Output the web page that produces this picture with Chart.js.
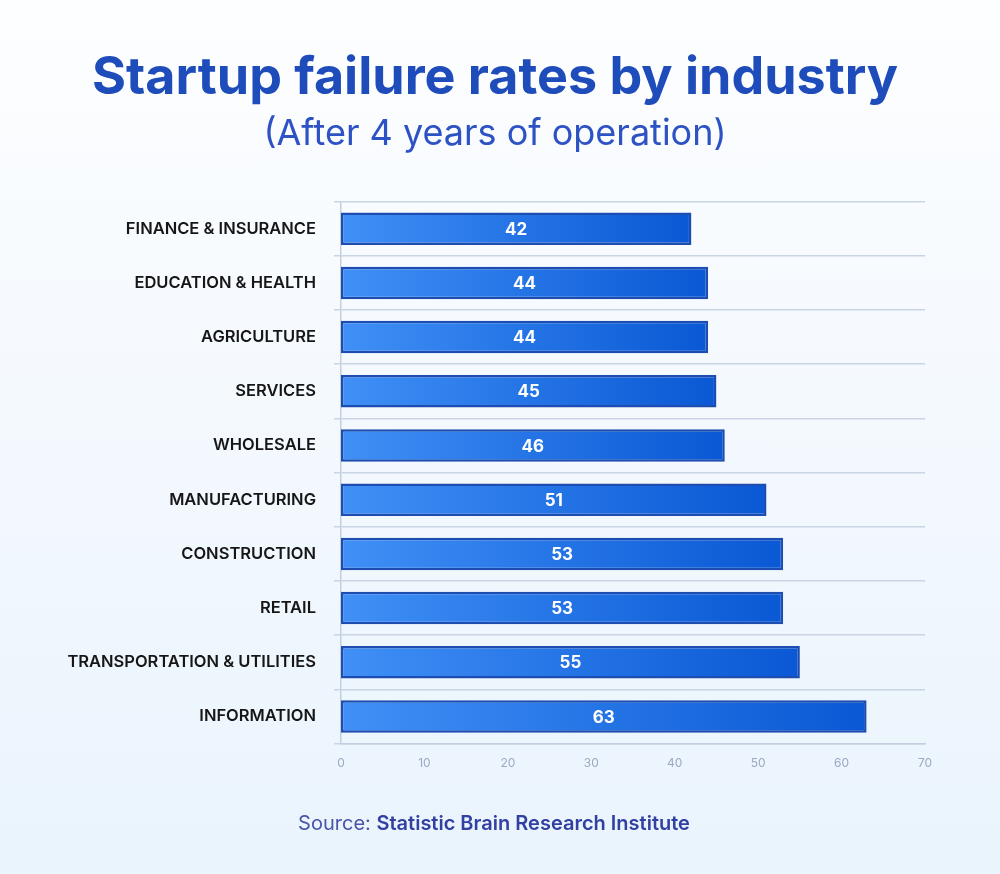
<!DOCTYPE html>
<html lang="en">

<head>
    <meta charset="UTF-8">
    <meta name="viewport" content="width=device-width, initial-scale=1.0">
    <title>Startup failure rates by industry</title>
    <script src="https://cdn.jsdelivr.net/npm/chart.js@4.4.1/dist/chart.umd.min.js"></script>
    <style>
        html, body {
            margin: 0;
            padding: 0;
        }

        body {
            width: 1000px;
            height: 874px;
            background: linear-gradient(180deg, #fdfeff 0%, #f4f9fe 45%, #eaf4fd 100%);
            overflow: hidden;
        }

        #wrap {
            width: 1000px;
            height: 874px;
        }
    </style>
</head>

<body>
    <div id="wrap"><canvas id="chart"></canvas></div>

    <script>
        const industries = [
            'FINANCE & INSURANCE',
            'EDUCATION & HEALTH',
            'AGRICULTURE',
            'SERVICES',
            'WHOLESALE',
            'MANUFACTURING',
            'CONSTRUCTION',
            'RETAIL',
            'TRANSPORTATION & UTILITIES',
            'INFORMATION'
        ];
        const failureRates = [42, 44, 44, 45, 46, 51, 53, 53, 55, 63];
        const xTicks = [0, 10, 20, 30, 40, 50, 60, 70];

        const sourceLabel = 'Source: ';
        const sourceName = 'Statistic Brain Research Institute';

        // gradient per bar, light on the left to deeper blue at the end
        function barGradient(context) {
            const chart = context.chart;
            const x = chart.scales.x;
            if (!chart.chartArea || !x) return '#2f7cf0';
            const start = x.getPixelForValue(0);
            const end = x.getPixelForValue(failureRates[context.dataIndex]);
            const g = chart.ctx.createLinearGradient(start, 0, end, 0);
            g.addColorStop(0, '#4090f7');
            g.addColorStop(1, '#0a58d4');
            return g;
        }

        // white value inside each bar
        const barValues = {
            id: 'barValues',
            afterDatasetsDraw(chart) {
                const ctx = chart.ctx;
                const meta = chart.getDatasetMeta(0);
                ctx.save();
                ctx.fillStyle = '#ffffff';
                ctx.font = 'bold 17px Inter, sans-serif';
                ctx.textAlign = 'center';
                ctx.textBaseline = 'middle';
                meta.data.forEach((bar, i) => {
                    const cx = (bar.x + bar.base) / 2;
                    ctx.fillText(failureRates[i], cx, bar.y + 1);
                });
                ctx.restore();
            }
        };

        // source line under the chart
        const sourceNote = {
            id: 'sourceNote',
            afterDraw(chart) {
                const ctx = chart.ctx;
                ctx.save();
                ctx.textBaseline = 'middle';
                ctx.font = '400 20px Inter, sans-serif';
                const w1 = ctx.measureText(sourceLabel).width;
                ctx.font = '600 20px Inter, sans-serif';
                const w2 = ctx.measureText(sourceName).width;
                let x = 494 - (w1 + w2) / 2;
                const y = 824;
                ctx.font = '400 20px Inter, sans-serif';
                ctx.fillStyle = '#4a55a8';
                ctx.fillText(sourceLabel, x, y);
                ctx.font = '600 20px Inter, sans-serif';
                ctx.fillStyle = '#3240a2';
                ctx.fillText(sourceName, x + w1, y);
                ctx.restore();
            }
        };

        const ctx = document.getElementById('chart').getContext('2d');
        const myChart = new Chart(ctx, {
            type: 'bar',
            data: {
                labels: industries,
                datasets: [{
                    label: 'Failure rate (%)',
                    data: failureRates,
                    backgroundColor: barGradient,
                    borderColor: '#1d4db0',
                    borderWidth: 2.5,
                    borderSkipped: false,
                    categoryPercentage: 1,
                    barPercentage: 0.6
                }]
            },
            options: {
                indexAxis: 'y',
                responsive: true,
                maintainAspectRatio: false,
                animation: false,
                layout: {
                    padding: { left: 65, right: 75, top: 0, bottom: 98 }
                },
                plugins: {
                    legend: { display: false },
                    tooltip: { enabled: false },
                    title: {
                        display: true,
                        text: 'Startup failure rates by industry',
                        color: '#1e4cba',
                        font: { family: 'Inter, sans-serif', size: 52, weight: 'bold', lineHeight: 1.2 },
                        padding: { top: 47, bottom: 3 }
                    },
                    subtitle: {
                        display: true,
                        text: '(After 4 years of operation)',
                        color: '#2d52c4',
                        font: { family: 'Inter, sans-serif', size: 36, weight: 'normal', lineHeight: 1.2 },
                        padding: { top: 0, bottom: 46 }
                    }
                },
                scales: {
                    x: {
                        min: 0,
                        max: 70,
                        afterBuildTicks(scale) {
                            scale.ticks = xTicks.map(v => ({ value: v }));
                        },
                        grid: { display: false },
                        border: { display: true, color: '#c3cfe0', width: 1.5 },
                        ticks: {
                            color: '#9ca8c2',
                            font: { family: 'Inter, sans-serif', size: 12 },
                            padding: 5
                        }
                    },
                    y: {
                        afterFit(scale) {
                            scale.width = 276;
                        },
                        grid: {
                            color: '#c9d4e4',
                            lineWidth: 1.5,
                            tickLength: 7
                        },
                        border: { display: true, color: '#c3cfe0', width: 1.5 },
                        ticks: {
                            color: '#161616',
                            font: { family: 'Inter, sans-serif', size: 16.5, weight: '600' },
                            padding: 18
                        }
                    }
                }
            },
            plugins: [barValues, sourceNote]
        });
    </script>

</body>

</html>
